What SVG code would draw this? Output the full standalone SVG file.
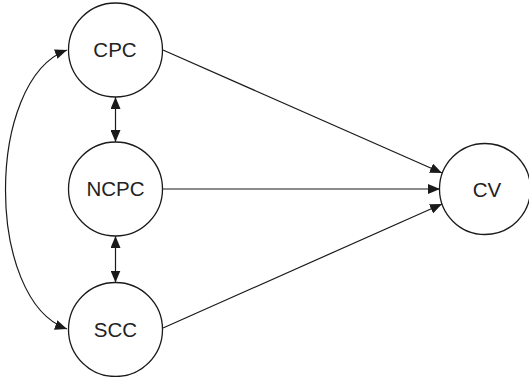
<svg xmlns="http://www.w3.org/2000/svg" width="529" height="377" viewBox="0 0 529 377">
<style>
.node circle{fill:#fff;stroke:#1a1a1a;stroke-width:1.3}
.node text{font-family:"Liberation Sans",Arial,sans-serif;font-size:20.5px;fill:#222;text-anchor:middle;dominant-baseline:central}
.edge{fill:none;stroke:#1a1a1a;stroke-width:1.2}
</style>
<defs>
<marker id="ah" viewBox="0 0 12 10" refX="12" refY="5" markerWidth="12" markerHeight="10" markerUnits="userSpaceOnUse" orient="auto-start-reverse">
<path d="M0,0 L12,5 L0,10 z" fill="#1a1a1a"/>
</marker>
</defs>
<g id="connectors">
<path class="edge" d="M163,50 L442,173" marker-end="url(#ah)"/>
<path class="edge" d="M163,189 L440,189" marker-end="url(#ah)"/>
<path class="edge" d="M163,328 L442,204" marker-end="url(#ah)"/>
<path class="edge" d="M115.5,97 L115.5,142" marker-start="url(#ah)" marker-end="url(#ah)"/>
<path class="edge" d="M115.5,236 L115.5,282.5" marker-start="url(#ah)" marker-end="url(#ah)"/>
<path class="edge" d="M67,50 C-15,80 -15,300 67,329" marker-start="url(#ah)" marker-end="url(#ah)"/>
</g>
<g id="node-cpc" class="node"><circle cx="115.5" cy="50" r="47"/><text x="115" y="49.5">CPC</text></g>
<g id="node-ncpc" class="node"><circle cx="115.5" cy="189" r="47"/><text x="115.5" y="188">NCPC</text></g>
<g id="node-scc" class="node"><circle cx="115.5" cy="329.5" r="47"/><text x="115.5" y="329">SCC</text></g>
<g id="node-cv" class="node"><circle cx="485" cy="189" r="45.5"/><text x="487" y="189">CV</text></g>
</svg>
